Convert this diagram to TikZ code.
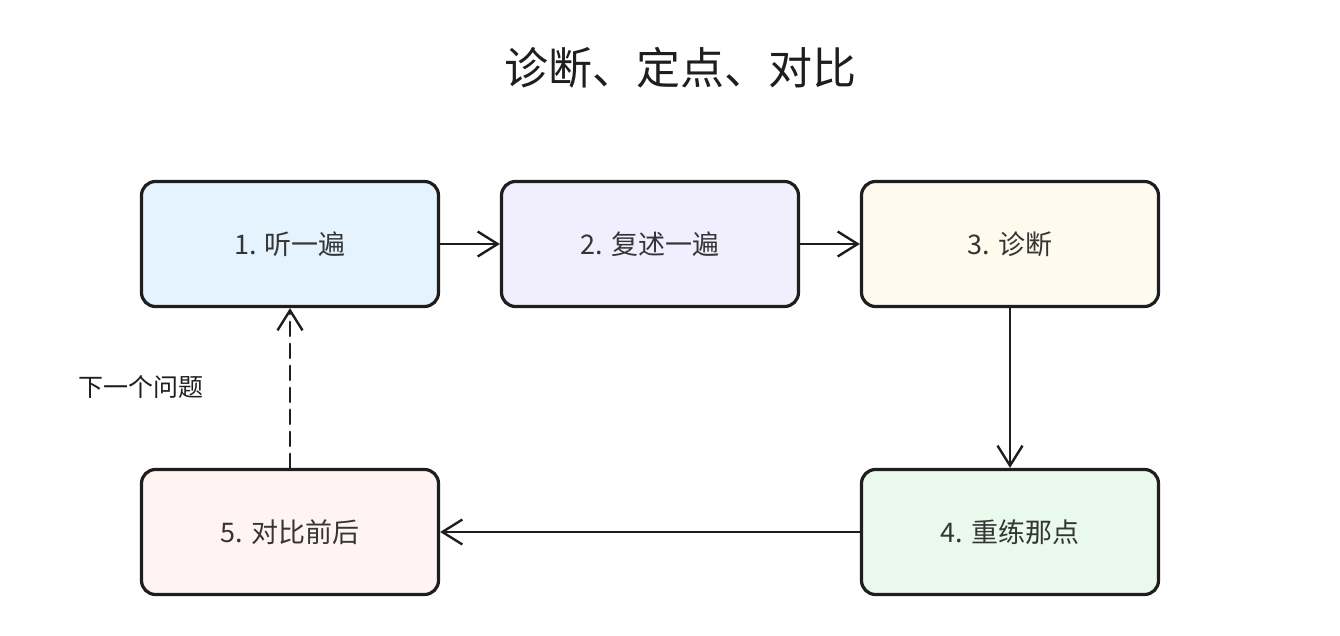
\documentclass[tikz,border=0pt]{standalone}
\usepackage{fontspec}
\setmainfont{Noto Sans CJK SC}
\usetikzlibrary{arrows.meta}
\begin{document}
\begin{tikzpicture}[x=0.5pt,y=-0.5pt,line join=round,line cap=round]
            \definecolor{inkline}{HTML}{1E1E1E}
            \definecolor{paleblue}{HTML}{E4F3FD}
            \definecolor{palelilac}{HTML}{F1EFFE}
            \definecolor{palecream}{HTML}{FFFAEE}
            \definecolor{palemint}{HTML}{E9F9EC}
            \definecolor{palerose}{HTML}{FFF4F3}
            \tikzset{
                stepbox/.style={draw=inkline,line width=1.6pt,rounded corners=7pt,
                    minimum width=148.5pt,minimum height=62.5pt,inner sep=0pt,
                    font=\fontsize{13.5pt}{16pt}\selectfont,text=inkline!90},
                flow/.style={draw=inkline,line width=1.2pt,
                    -{Straight Barb[length=10pt,width=12.5pt,line width=1.2pt]}},
            }
            \useasboundingbox (0,0) rectangle (1340,636);
            % title
            \node[font=\fontsize{22pt}{26pt}\selectfont,text=inkline] (title) at (680,68) {诊断、定点、对比};
            % steps
            \node[stepbox,fill=paleblue] (s1) at (290,244) {1. 听一遍};
            \node[stepbox,fill=palelilac] (s2) at (650,244) {2. 复述一遍};
            \node[stepbox,fill=palecream] (s3) at (1010,244) {3. 诊断};
            \node[stepbox,fill=palemint] (s4) at (1010,532) {4. 重练那点};
            \node[stepbox,fill=palerose] (s5) at (290,532) {5. 对比前后};
            % connectors
            \draw[flow] (s1) -- (s2);
            \draw[flow] (s2) -- (s3);
            \draw[flow] (s3) -- (s4);
            \draw[flow] (s4) -- (s5);
            \draw[flow,line width=1.4pt,dash pattern=on 7pt off 4pt] (s5) -- (s1);
            \node[font=\fontsize{12.5pt}{14pt}\selectfont,text=inkline] (next) at (141,387) {下一个问题};
    \end{tikzpicture}
\end{document}
